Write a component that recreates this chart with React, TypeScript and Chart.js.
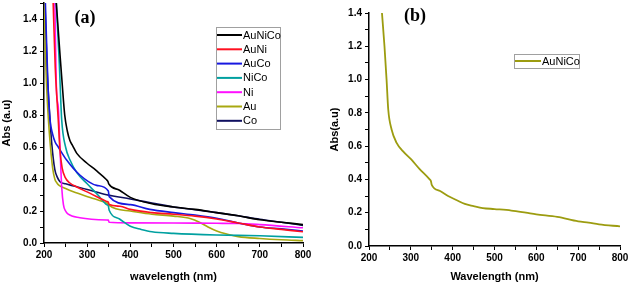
import React, { useEffect, useRef } from "react";
import { Chart, registerables } from "chart.js";

Chart.register(...registerables);

// ---------- Panel (a) data ----------
const seriesNames = ["AuNiCo", "AuNi", "AuCo", "NiCo", "Ni", "Au", "Co"];
const seriesColors = ["#000000", "#ff1020", "#1818e0", "#00a0a0", "#ff10ff", "#a8a810", "#101060"];

const auNiCoNm = [228, 237, 242, 248, 254, 260, 266, 276, 299, 320, 345, 348, 350, 375, 400, 450, 500, 550, 600, 650, 700, 750, 800];
const auNiCoAbs = [1.52, 1.18, 1.0, 0.8, 0.7, 0.64, 0.61, 0.56, 0.5, 0.455, 0.395, 0.385, 0.37, 0.33, 0.285, 0.245, 0.225, 0.21, 0.19, 0.17, 0.145, 0.13, 0.115];

const auNiNm = [221, 226, 230, 233, 237, 242, 249, 260, 276, 307, 345, 349, 351, 376, 400, 450, 500, 550, 600, 650, 700, 750, 800];
const auNiAbs = [1.52, 1.1, 0.9, 0.77, 0.58, 0.47, 0.41, 0.375, 0.35, 0.31, 0.26, 0.255, 0.24, 0.23, 0.21, 0.19, 0.18, 0.168, 0.15, 0.125, 0.1, 0.085, 0.07];

const auCoNm = [203, 209, 214, 220, 226, 233, 252, 283, 322, 349, 351, 400, 445, 500, 550, 600, 650, 700, 750, 800];
const auCoAbs = [1.52, 1.0, 0.77, 0.68, 0.63, 0.6, 0.52, 0.425, 0.36, 0.325, 0.29, 0.24, 0.21, 0.19, 0.175, 0.155, 0.125, 0.1, 0.088, 0.075];

const niCoNm = [228, 235, 241, 250, 260, 276, 300, 325, 345, 349, 351, 375, 400, 425, 450, 500, 600, 700, 800];
const niCoAbs = [1.52, 1.15, 0.77, 0.6, 0.52, 0.44, 0.37, 0.3, 0.24, 0.232, 0.205, 0.15, 0.105, 0.085, 0.07, 0.06, 0.05, 0.045, 0.035];

const niNm = [225, 229, 233, 237, 241, 245, 250, 256, 283, 345, 349, 351, 400, 500, 600, 650, 700, 800];
const niAbs = [1.52, 0.95, 0.85, 0.6, 0.35, 0.24, 0.2, 0.18, 0.158, 0.144, 0.143, 0.13, 0.126, 0.125, 0.123, 0.122, 0.115, 0.095];

const auNm = [200, 205, 210, 215, 220, 225, 230, 235, 250, 268, 307, 345, 349, 351, 400, 450, 500, 540, 560, 580, 600, 625, 650, 700, 750, 800];
const auAbs = [1.52, 1.05, 0.78, 0.6, 0.47, 0.4, 0.375, 0.36, 0.34, 0.32, 0.285, 0.25, 0.245, 0.235, 0.2, 0.18, 0.168, 0.152, 0.13, 0.1, 0.075, 0.055, 0.04, 0.028, 0.02, 0.015];

const coNm = [202, 207, 212, 218, 225, 231, 237, 250, 300, 345, 400, 450, 500, 550, 600, 650, 700, 750, 800];
const coAbs = [1.52, 1.1, 0.85, 0.62, 0.46, 0.41, 0.383, 0.37, 0.335, 0.302, 0.275, 0.25, 0.225, 0.208, 0.19, 0.17, 0.148, 0.13, 0.11];

// ---------- Panel (b) data ----------
const bName = "AuNiCo";
const bColor = "#9c9c10";
const bNm = [231, 237, 242, 246, 254, 266, 281, 301, 320, 345, 348, 350, 370, 389, 410, 429, 450, 472, 500, 540, 575, 600, 650, 700, 725, 750, 800];
const bAbs = [1.4, 1.2, 1.0, 0.82, 0.7, 0.62, 0.57, 0.52, 0.465, 0.4, 0.39, 0.367, 0.33, 0.3, 0.275, 0.253, 0.24, 0.228, 0.222, 0.213, 0.2, 0.19, 0.175, 0.148, 0.14, 0.13, 0.118];

const xTickValues = [200, 300, 400, 500, 600, 700, 800];

const toPts = (xs: number[], ys: number[]) => xs.map((x, i) => ({ x, y: ys[i] }));

const FONT = "Arial, 'Liberation Sans', sans-serif";

const legendPlugin = {
  id: "boxLegend",
  afterDraw(chart: any, _args: any, opts: any) {
    if (!opts || !opts.show) return;
    const ctx = chart.ctx;
    const ds = chart.data.datasets;
    ctx.save();
    ctx.strokeStyle = "#a0a0a0";
    ctx.lineWidth = 1;
    ctx.strokeRect(opts.x + 0.5, opts.y + 0.5, opts.w, opts.h);
    ctx.font = `11px ${FONT}`;
    ctx.textBaseline = "middle";
    ctx.textAlign = "left";
    ds.forEach((d: any, i: number) => {
      const cy = opts.y + opts.first + i * opts.step;
      ctx.strokeStyle = d.borderColor;
      ctx.lineWidth = 2;
      ctx.beginPath();
      ctx.moveTo(opts.x + 1, cy);
      ctx.lineTo(opts.x + 1 + opts.lineLen, cy);
      ctx.stroke();
      ctx.fillStyle = "#000";
      ctx.fillText(d.label, opts.x + opts.lineLen + 2, cy + 0.5);
    });
    ctx.restore();
  },
};

const panelLabelPlugin = {
  id: "panelLabel",
  afterDraw(chart: any, _args: any, opts: any) {
    if (!opts || !opts.text) return;
    const ctx = chart.ctx;
    const a = chart.chartArea;
    ctx.save();
    ctx.font = `bold 18px 'Liberation Serif', 'Times New Roman', serif`;
    ctx.fillStyle = "#000";
    ctx.textAlign = "center";
    ctx.textBaseline = "middle";
    ctx.fillText(opts.text, a.left + opts.dx, opts.y);
    ctx.restore();
  },
};

function makeOptions(cfg: {
  yMax: number;
  yWidth: number;
  xHeight: number;
  padRight: number;
  padTop: number;
  xTitle: string;
  yTitle: string;
  yTitlePadTop: number;
  legend: any;
  label: any;
}) {
  return {
    responsive: false,
    animation: false as const,
    devicePixelRatio: 1,
    layout: { padding: { left: 0, right: cfg.padRight, top: cfg.padTop, bottom: 0 } },
    plugins: {
      legend: { display: false },
      tooltip: { enabled: false },
      boxLegend: cfg.legend,
      panelLabel: cfg.label,
    },
    elements: { point: { radius: 0 } },
    scales: {
      x: {
        type: "linear" as const,
        min: 200,
        max: 800,
        ticks: {
          stepSize: 50,
          autoSkip: false,
          maxRotation: 0,
          padding: 2,
          color: "#000",
          font: { family: FONT, size: 10, weight: "bold" as const },
          callback: (v: number) => (xTickValues.includes(Math.round(v)) ? String(Math.round(v)) : ""),
        },
        grid: { drawOnChartArea: false, drawTicks: true, tickLength: 4, color: "#000", tickWidth: 1 },
        border: { color: "#000", width: 1.5 },
        title: {
          display: true,
          text: cfg.xTitle,
          color: "#000",
          font: { family: FONT, size: 11, weight: "bold" as const },
          padding: { top: 0, bottom: 2.4 },
        },
        afterFit: (s: any) => {
          s.height = cfg.xHeight;
          s.paddingLeft = 0;
          s.paddingRight = 0;
        },
      },
      y: {
        type: "linear" as const,
        min: 0,
        max: cfg.yMax,
        ticks: {
          stepSize: 0.1,
          autoSkip: false,
          padding: 3,
          color: "#000",
          font: { family: FONT, size: 10, weight: "bold" as const },
          callback: (v: number) => {
            const k = Math.round(v * 10);
            return k % 2 === 0 ? (k / 10).toFixed(1) : "";
          },
        },
        grid: { drawOnChartArea: false, drawTicks: true, tickLength: 4, color: "#000", tickWidth: 1 },
        border: { color: "#000", width: 1.5 },
        title: {
          display: true,
          text: cfg.yTitle,
          color: "#000",
          font: { family: FONT, size: 11, weight: "bold" as const },
          padding: { top: cfg.yTitlePadTop, bottom: 0 },
        },
        afterFit: (s: any) => {
          s.width = cfg.yWidth;
          s.paddingTop = 0;
          s.paddingBottom = 0;
        },
      },
    },
  };
}

export default function App() {
  const refA = useRef<HTMLCanvasElement | null>(null);
  const refB = useRef<HTMLCanvasElement | null>(null);

  useEffect(() => {
    const aData = [
      toPts(auNiCoNm, auNiCoAbs),
      toPts(auNiNm, auNiAbs),
      toPts(auCoNm, auCoAbs),
      toPts(niCoNm, niCoAbs),
      toPts(niNm, niAbs),
      toPts(auNm, auAbs),
      toPts(coNm, coAbs),
    ];
    const chartA = new Chart(refA.current as HTMLCanvasElement, {
      type: "line",
      data: {
        datasets: seriesNames.map((name, i) => ({
          label: name,
          data: aData[i],
          borderColor: seriesColors[i],
          backgroundColor: seriesColors[i],
          borderWidth: 1.6,
          pointRadius: 0,
          cubicInterpolationMode: "monotone" as const,
          fill: false,
        })),
      },
      options: makeOptions({
        yMax: 1.5,
        yWidth: 44,
        xHeight: 43,
        padRight: 17,
        padTop: 3,
        xTitle: "wavelength (nm)",
        yTitle: "Abs (a.u)",
        yTitlePadTop: 0.5,
        legend: { show: true, x: 216, y: 27, w: 64, h: 102, first: 8, step: 14.3, lineLen: 25 },
        label: { text: "(a)", dx: 41, y: 18 },
      }) as any,
      plugins: [legendPlugin, panelLabelPlugin],
    });

    const chartB = new Chart(refB.current as HTMLCanvasElement, {
      type: "line",
      data: {
        datasets: [
          {
            label: bName,
            data: toPts(bNm, bAbs),
            borderColor: bColor,
            backgroundColor: bColor,
            borderWidth: 1.8,
            pointRadius: 0,
            cubicInterpolationMode: "monotone" as const,
            fill: false,
          },
        ],
      },
      options: makeOptions({
        yMax: 1.4,
        yWidth: 49,
        xHeight: 40,
        padRight: 9,
        padTop: 13,
        xTitle: "Wavelength (nm)",
        yTitle: "Abs(a.u)",
        yTitlePadTop: 8.4,
        legend: { show: true, x: 194, y: 54, w: 65, h: 14, first: 7, step: 14, lineLen: 26 },
        label: { text: "(b)", dx: 46, y: 16 },
      }) as any,
      plugins: [legendPlugin, panelLabelPlugin],
    });

    return () => {
      chartA.destroy();
      chartB.destroy();
    };
  }, []);

  return (
    <div style={{ position: "absolute", left: 0, top: 0, width: 629, height: 286, background: "#fff" }}>
      <canvas ref={refA} width={320} height={286} style={{ position: "absolute", left: 0, top: 0, width: 320, height: 286 }} />
      <canvas ref={refB} width={309} height={286} style={{ position: "absolute", left: 320, top: 0, width: 309, height: 286 }} />
    </div>
  );
}
